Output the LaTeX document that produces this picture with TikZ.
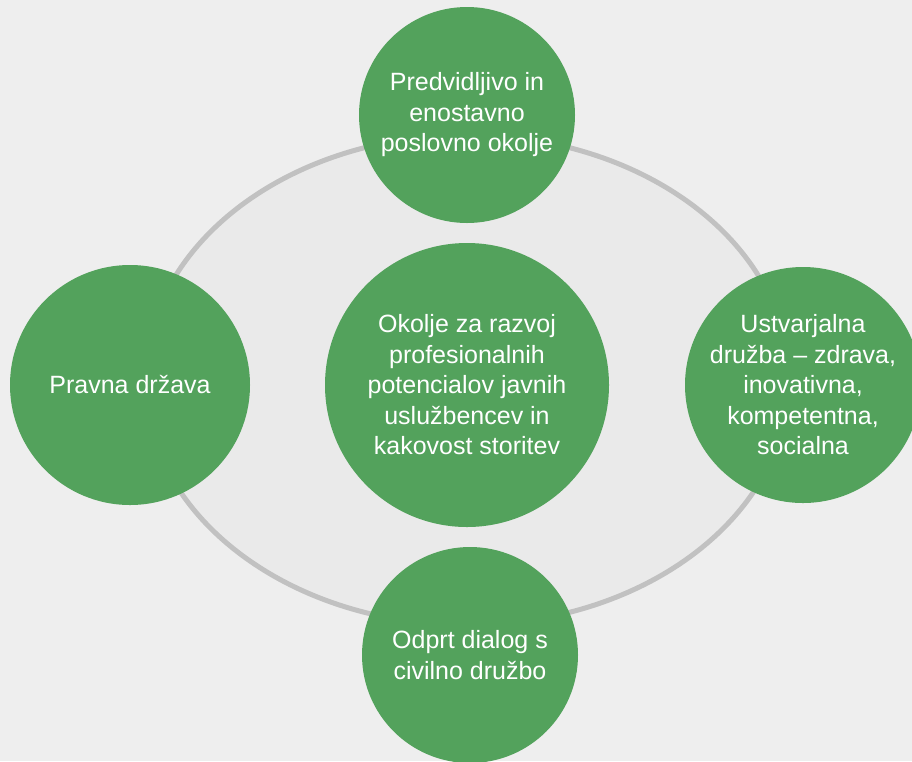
\documentclass[tikz,border=0pt]{standalone}
\usepackage{fontspec}
\setmainfont{Liberation Sans}
\definecolor{bggray}{HTML}{EEEEEE}
\definecolor{ingray}{HTML}{EAEAEA}
\definecolor{ringgray}{HTML}{C1C1C1}
\definecolor{leaf}{HTML}{53A25C}
\begin{document}
\begin{tikzpicture}[x=1pt,y=-1pt,
  bubble/.style={circle,fill=leaf,draw=none,text=white,align=center,inner sep=0pt,
    font=\fontsize{25}{30.5}\selectfont},
  ring/.style={draw=ringgray,line width=5pt}]
\useasboundingbox (0,0) rectangle (912,761);
\clip (0,0) rectangle (912,761);
\fill[bggray] (0,0) rectangle (912,761);
\filldraw[ring,fill=ingray] (467,380) ellipse [x radius=322pt, y radius=245pt];
\node[bubble,minimum size=216pt] (top) at (467,115) {Predvidljivo in\\enostavno\\poslovno okolje};
\node[bubble,minimum size=240pt] (left) at (130,385) {Pravna država};
\node[bubble,minimum size=284pt] (mid) at (467,385) {Okolje za razvoj\\profesionalnih\\potencialov javnih\\uslužbencev in\\kakovost storitev};
\node[bubble,minimum size=236pt] (right) at (803,385) {Ustvarjalna\\družba – zdrava,\\inovativna,\\kompetentna,\\socialna};
\node[bubble,minimum size=216pt] (bottom) at (470,655) {Odprt dialog s\\civilno družbo};
\end{tikzpicture}
\end{document}
